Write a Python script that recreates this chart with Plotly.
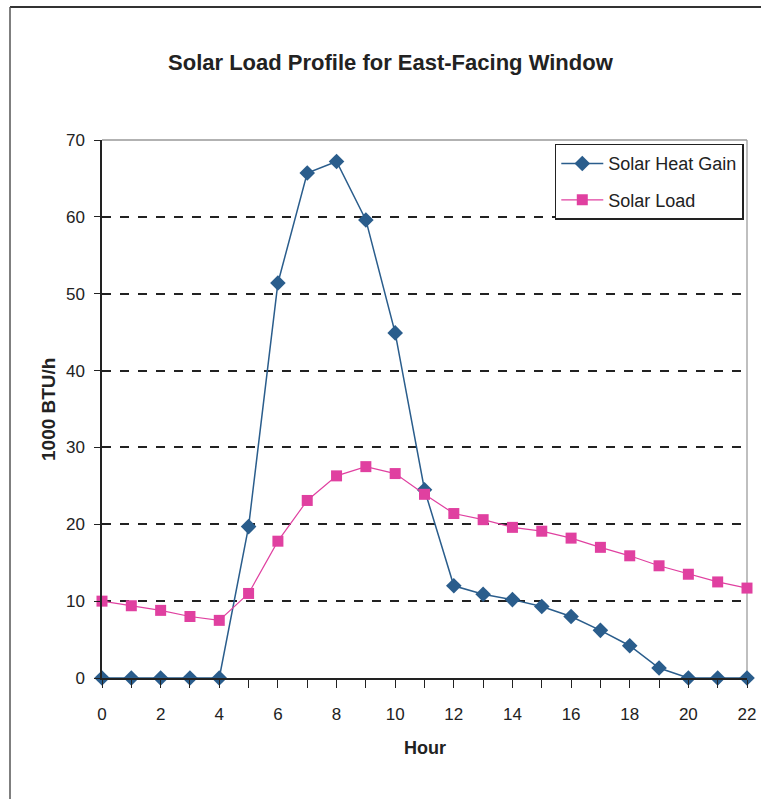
import plotly.graph_objects as go

# Hourly solar data for an east-facing window (1000 BTU/h)
hours = list(range(23))
solar_heat_gain = [0, 0, 0, 0, 0, 19.7, 51.4, 65.7, 67.2, 59.6, 44.9, 24.5,
                   12.0, 10.9, 10.2, 9.3, 8.0, 6.2, 4.2, 1.3, 0, 0, 0]
solar_load = [10.0, 9.4, 8.8, 8.0, 7.5, 11.0, 17.8, 23.1, 26.3, 27.5, 26.6, 23.9,
              21.4, 20.6, 19.6, 19.1, 18.2, 17.0, 15.9, 14.6, 13.5, 12.5, 11.7]
x_tick_text = [str(h) if h % 2 == 0 else "" for h in hours]
y_ticks = [0, 10, 20, 30, 40, 50, 60, 70]

FONT = "Liberation Sans, Arial, sans-serif"
INK = "#222"
BLUE = "#2a5d8c"
MAGENTA = "#e040a0"

fig = go.Figure()
fig.add_trace(go.Scatter(
    x=hours, y=solar_heat_gain, name="Solar Heat Gain", mode="lines+markers",
    legendgroup="gain",
    line=dict(color=BLUE, width=1.5),
    marker=dict(symbol="diamond", size=12, color=BLUE),
    cliponaxis=False,
))
fig.add_trace(go.Scatter(
    x=hours, y=solar_load, name="Solar Load", mode="lines+markers",
    legendgroup="load",
    line=dict(color=MAGENTA, width=1.2),
    marker=dict(symbol="square", size=11, color=MAGENTA),
    cliponaxis=False,
))

# plot area: 645 x 538 px, used to place the frame lines in paper units
PW, PH = 645, 538

fig.update_layout(
    width=761, height=799,
    margin=dict(l=102, r=14, t=140, b=121, autoexpand=False),
    paper_bgcolor="white", plot_bgcolor="white",
    title=dict(text="<b>Solar Load Profile for East-Facing Window</b>",
               x=0.513, xanchor="center", y=0.922, yanchor="middle",
               font=dict(family=FONT, size=22, color=INK)),
    showlegend=True,
    legend=dict(x=0.702, xanchor="left", y=0.993, yanchor="top",
                bgcolor="white", bordercolor=INK, borderwidth=1.5,
                font=dict(family=FONT, size=18, color=INK),
                itemwidth=42, tracegroupgap=10),
    xaxis=dict(
        range=[0, 22], tickvals=hours, ticktext=x_tick_text,
        automargin=False,
        showgrid=False, zeroline=False,
        showline=True, linecolor=INK, linewidth=1.5,
        ticks="outside", ticklen=8, tickcolor=INK, tickwidth=1,
        ticklabelstandoff=12,
        tickfont=dict(family=FONT, size=17, color=INK),
    ),
    yaxis=dict(
        range=[0, 70], tickvals=y_ticks,
        automargin=False,
        showgrid=True, gridcolor=INK, gridwidth=1.5, griddash="dash",
        zeroline=False,
        showline=True, linecolor=INK, linewidth=1.5,
        ticks="outside", ticklen=6, tickcolor=INK, tickwidth=1,
        ticklabelstandoff=6,
        tickfont=dict(family=FONT, size=17, color=INK),
    ),
    annotations=[
        dict(text="<b>Hour</b>", xref="paper", yref="paper",
             x=(425 - 102) / PW, y=(678 - 748) / PH,
             xanchor="center", yanchor="middle", showarrow=False,
             font=dict(family=FONT, size=18, color=INK)),
        dict(text="<b>1000 BTU/h</b>", xref="paper", yref="paper",
             x=(48 - 102) / PW, y=(678 - 410) / PH, textangle=-90,
             xanchor="center", yanchor="middle", showarrow=False,
             font=dict(family=FONT, size=19, color=INK)),
    ],
    shapes=[
        # light frame on the top and right of the plotting area
        dict(type="line", xref="paper", yref="paper", x0=0, x1=1, y0=1, y1=1,
             line=dict(color="#999", width=1.5), layer="above"),
        dict(type="line", xref="paper", yref="paper", x0=1, x1=1, y0=0, y1=1,
             line=dict(color="#aaa", width=1.5), layer="below"),
        # outer chart border (top and left edges)
        dict(type="line", xref="paper", yref="paper",
             x0=(10 - 102) / PW, x1=(770 - 102) / PW,
             y0=(678 - 7) / PH, y1=(678 - 7) / PH,
             line=dict(color="#333", width=2)),
        dict(type="line", xref="paper", yref="paper",
             x0=(10 - 102) / PW, x1=(10 - 102) / PW,
             y0=(678 - 805) / PH, y1=(678 - 7) / PH,
             line=dict(color="#555", width=1.5)),
    ],
)

fig.write_html("out.html")
